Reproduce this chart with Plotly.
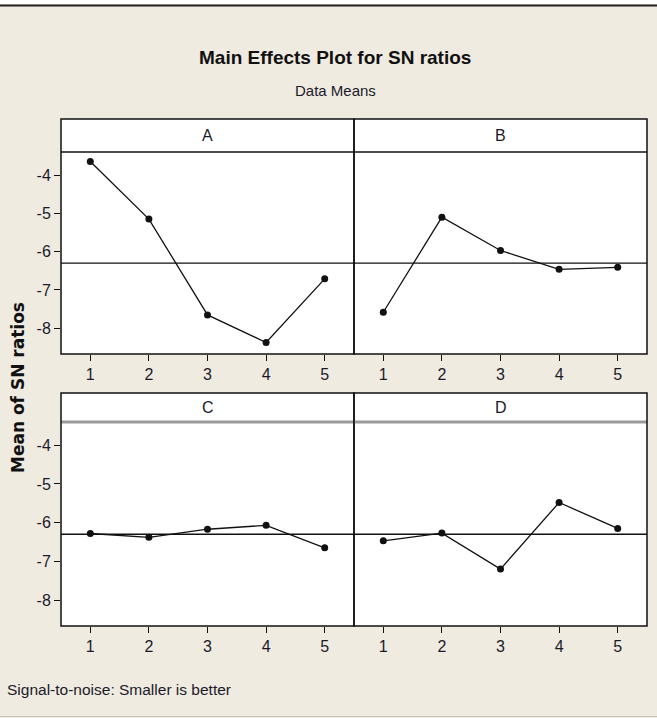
import plotly.graph_objects as go

# ---- data ----
levels = [1, 2, 3, 4, 5]
factor_names = ["A", "B", "C", "D"]
sn_A = [-3.65, -5.15, -7.65, -8.37, -6.71]
sn_B = [-7.58, -5.10, -5.97, -6.46, -6.41]
sn_C = [-6.28, -6.38, -6.17, -6.07, -6.65]
sn_D = [-6.47, -6.27, -7.20, -5.48, -6.15]
grand_mean = -6.30
y_tickvals = [-8, -7, -6, -5, -4]
y_ticktext = ["-8", "-7", "-6", "-5", "-4"]
x_ticktext = ["1", "2", "3", "4", "5"]

series = [sn_A, sn_B, sn_C, sn_D]

W, H = 657, 718
BG = "#F0EBE1"
NARROW = "Liberation Sans, Arial, sans-serif"

def px(x):
    return x / W

def py(y):
    return 1 - y / H

# panel pixel geometry: (left, right, strip_top, strip_bottom, bottom)
panels = [
    (61, 354, 119, 152, 354),
    (354, 647, 119, 152, 354),
    (61, 354, 393, 422, 626),
    (354, 647, 393, 422, 626),
]

fig = go.Figure()
shapes = []
annotations = []

for i, (name, vals, g) in enumerate(zip(factor_names, series, panels)):
    l, r, st, sb, b = g
    n = i + 1
    xa = "xaxis" if n == 1 else f"xaxis{n}"
    ya = "yaxis" if n == 1 else f"yaxis{n}"
    xr = "x" if n == 1 else f"x{n}"
    yr = "y" if n == 1 else f"y{n}"
    fig.add_trace(go.Scatter(
        x=levels, y=vals, mode="lines+markers",
        line=dict(color="#111111", width=1.3),
        marker=dict(color="#111111", size=7, symbol="circle"),
        xaxis=xr, yaxis=yr, showlegend=False, hoverinfo="x+y",
    ))
    left_col = (i % 2 == 0)
    fig.layout[xa] = dict(
        domain=[px(l), px(r)], range=[0.5, 5.5], anchor=yr,
        tickvals=levels, ticktext=x_ticktext, ticks="outside", ticklen=6,
        tickwidth=1, tickcolor="#111111", showgrid=False, zeroline=False,
        showline=False, tickfont=dict(family=NARROW, size=16, color="#1a1a2a"),
        fixedrange=True,
    )
    fig.layout[ya] = dict(
        domain=[py(b), py(sb)], range=[-8.67, -3.40], anchor=xr,
        tickvals=y_tickvals, ticktext=y_ticktext,
        ticks="outside" if left_col else "", ticklen=6, tickwidth=1,
        tickcolor="#111111", showticklabels=left_col, showgrid=False,
        zeroline=False, showline=False,
        tickfont=dict(family=NARROW, size=16, color="#1a1a2a"),
        fixedrange=True,
    )
    # plot area background
    shapes.append(dict(type="rect", xref="paper", yref="paper",
                       x0=px(l), x1=px(r), y0=py(b), y1=py(st),
                       fillcolor="white", line=dict(width=0), layer="below"))
    # reference (mean) line
    shapes.append(dict(type="line", xref=f"{xr} domain", yref=yr,
                       x0=0, x1=1, y0=grand_mean, y1=grand_mean,
                       line=dict(color="#111111", width=1.3)))
    # strip separator
    if i < 2:
        shapes.append(dict(type="line", xref="paper", yref="paper",
                           x0=px(l), x1=px(r), y0=py(sb), y1=py(sb),
                           line=dict(color="#111111", width=1.6)))
    else:
        shapes.append(dict(type="line", xref="paper", yref="paper",
                           x0=px(l), x1=px(r), y0=py(sb), y1=py(sb),
                           line=dict(color="#9a9a9a", width=3)))
    # panel border
    shapes.append(dict(type="rect", xref="paper", yref="paper",
                       x0=px(l), x1=px(r), y0=py(b), y1=py(st),
                       line=dict(color="#111111", width=1.5)))
    annotations.append(dict(text=name, xref="paper", yref="paper",
                            x=px((l + r) / 2), y=py((st + sb) / 2),
                            showarrow=False, xanchor="center", yanchor="middle",
                            font=dict(family=NARROW, size=16, color="#1a1a2a")))

# page frame lines
shapes.append(dict(type="rect", xref="paper", yref="paper", x0=0, x1=1,
                   y0=py(4), y1=1, fillcolor="white", line=dict(width=0),
                   layer="below"))
shapes.append(dict(type="line", xref="paper", yref="paper", x0=0, x1=1,
                   y0=py(5.5), y1=py(5.5), line=dict(color="#222222", width=2)))
shapes.append(dict(type="line", xref="paper", yref="paper", x0=0, x1=1,
                   y0=py(716.5), y1=py(716.5), line=dict(color="#c8c4bc", width=1)))

annotations += [
    dict(text="<b>Main Effects Plot for SN ratios</b>", xref="paper", yref="paper",
         x=px(335), y=py(57), showarrow=False, xanchor="center", yanchor="middle",
         font=dict(family=NARROW, size=19, color="#111111")),
    dict(text="Data Means", xref="paper", yref="paper",
         x=px(335), y=py(91), showarrow=False, xanchor="center", yanchor="middle",
         font=dict(family=NARROW, size=15, color="#1a1a2a")),
    dict(text="<b>Mean of SN ratios</b>", xref="paper", yref="paper",
         x=px(18), y=py(388), showarrow=False, xanchor="center", yanchor="middle",
         textangle=-90, font=dict(family="DejaVu Sans, Verdana, sans-serif",
                                  size=17, color="#111111")),
    dict(text="Signal-to-noise: Smaller is better", xref="paper", yref="paper",
         x=px(5), y=py(689), showarrow=False, xanchor="left", yanchor="middle",
         font=dict(family=NARROW, size=15.5, color="#1a1a2a")),
]

fig.update_layout(
    width=W, height=H, margin=dict(l=0, r=0, t=0, b=0),
    paper_bgcolor=BG, plot_bgcolor="white",
    shapes=shapes, annotations=annotations, showlegend=False,
)

fig.write_html("out.html", config={"displayModeBar": False},
               post_script="document.body.style.margin='0';document.body.style.padding='0';")
